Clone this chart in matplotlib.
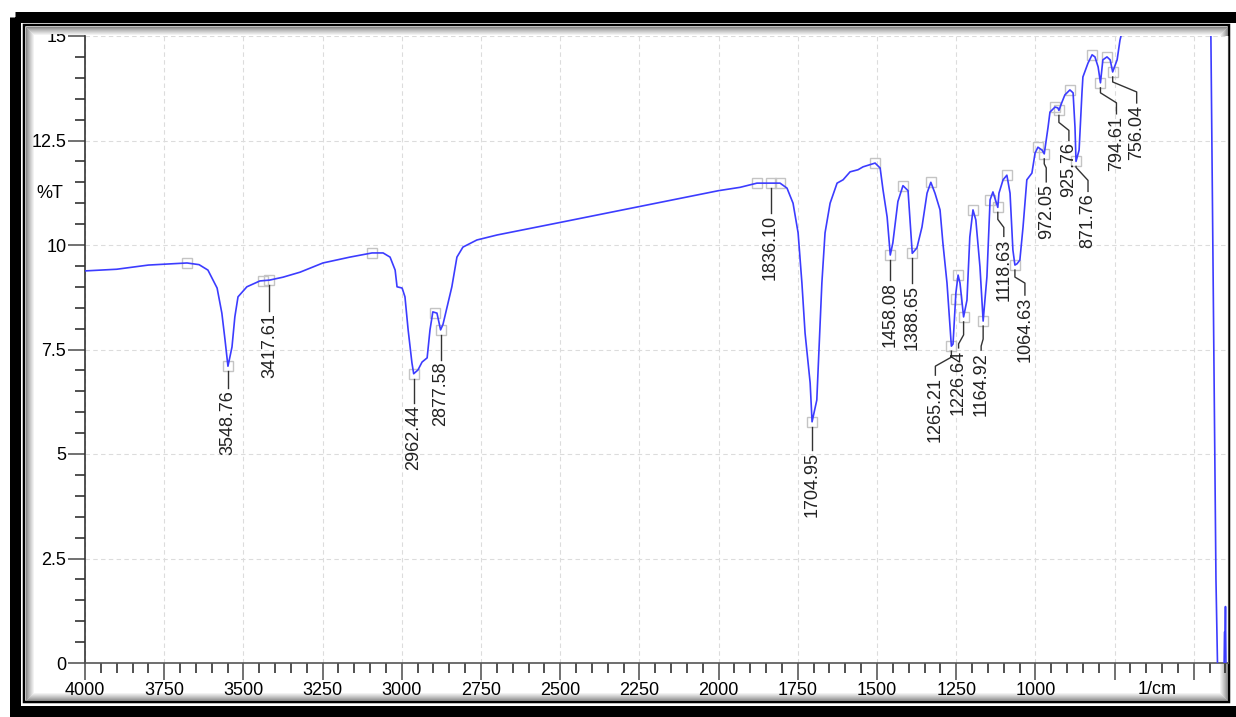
import numpy as np
import matplotlib
matplotlib.use("Agg")
import matplotlib.pyplot as plt
from matplotlib.patches import Rectangle
from matplotlib.ticker import MultipleLocator, FixedLocator, FixedFormatter

plt.rcParams['font.family'] = ['Liberation Sans', 'DejaVu Sans']

# FTIR spectrum (wavenumber in 1/cm, %T)
wavenumber = [4000, 3900, 3800, 3678, 3640, 3612, 3583, 3568, 3558, 3548.76,
              3536, 3527, 3517, 3489, 3448, 3417.61, 3375, 3321, 3249, 3164,
              3094, 3059, 3037, 3021, 3015, 2999, 2990, 2980, 2968, 2962.44,
              2949, 2936, 2920, 2911, 2902, 2889, 2877.58, 2870, 2857, 2842,
              2826, 2807, 2763, 2699, 2500, 2250, 2000, 1932, 1879, 1836.10,
              1806, 1784, 1765, 1749, 1737, 1727, 1711, 1704.95, 1690, 1683,
              1674, 1664, 1648, 1626, 1607, 1585, 1560, 1544, 1506, 1490,
              1481, 1468, 1458.08, 1450, 1434, 1418, 1402, 1388.65, 1374, 1358,
              1342, 1330, 1317, 1301, 1292, 1279, 1265.21, 1260, 1251, 1244,
              1238, 1226.64, 1216, 1207, 1197, 1188, 1175, 1164.92, 1153, 1143,
              1134, 1118.63, 1115, 1102, 1090, 1080, 1071, 1064.63, 1058, 1049,
              1039, 1027, 1011, 1001, 992, 979, 972.05, 960, 954, 938,
              929, 925.76, 916, 907, 891, 881, 875, 871.76, 862, 853,
              850, 834, 821, 812, 802, 794.61, 787, 774, 764, 756.04,
              742, 733, 720, 700, 600, 500, 460, 446, 430, 424,
              405, 403, 401, 400, 398, 392]
transmittance = [9.38, 9.42, 9.52, 9.57, 9.53, 9.40, 8.97, 8.37, 7.73, 7.10,
                 7.56, 8.28, 8.76, 9.00, 9.14, 9.16, 9.23, 9.35, 9.57, 9.71,
                 9.81, 9.81, 9.71, 9.40, 9.00, 8.97, 8.76, 7.97, 7.18, 6.92,
                 7.01, 7.20, 7.30, 7.97, 8.40, 8.37, 7.97, 8.10, 8.52, 9.00,
                 9.71, 9.95, 10.12, 10.24, 10.54, 10.92, 11.30, 11.38, 11.48, 11.48,
                 11.48, 11.36, 11.00, 10.29, 9.09, 7.89, 6.70, 5.77, 6.29, 7.49,
                 9.09, 10.29, 11.00, 11.48, 11.56, 11.75, 11.80, 11.87, 11.96, 11.84,
                 11.32, 10.67, 9.76, 10.05, 11.04, 11.42, 11.30, 9.80, 9.93, 10.43,
                 11.24, 11.50, 11.24, 10.84, 10.05, 9.09, 7.58, 7.63, 8.85, 9.28,
                 9.09, 8.28, 8.68, 10.19, 10.84, 10.60, 9.48, 8.18, 9.24, 11.08,
                 11.27, 10.90, 11.24, 11.56, 11.67, 11.24, 9.88, 9.52, 9.55, 9.64,
                 10.43, 11.56, 11.72, 12.20, 12.34, 12.27, 12.18, 12.82, 13.18, 13.30,
                 13.28, 13.22, 13.42, 13.59, 13.71, 13.64, 12.82, 12.00, 12.27, 13.64,
                 14.02, 14.35, 14.55, 14.50, 14.26, 13.88, 14.43, 14.50, 14.43, 14.14,
                 14.43, 14.90, 15.30, 17.0, 18.5, 18.0, 17.0, 15.0, 2.0, -0.5,
                 -0.5, 0.74, 0.74, 1.35, -0.5, -0.5]

# labelled peaks
peaks = [3548.76, 3417.61, 2962.44, 2877.58, 1836.10, 1704.95, 1458.08, 1388.65,
         1265.21, 1226.64, 1164.92, 1118.63, 1064.63, 972.05, 925.76, 871.76,
         794.61, 756.04]
# other points the software marked
extra_marks = [3678, 3438, 3094, 2895, 1879, 1806, 1506, 1418, 1330, 1252, 1244,
               1197, 1143, 1090, 992, 938, 891, 821, 774]

# label layout in pixels: (dx, knee1, knee2, text top) below the peak
label_layout = [(0, 0, 0, 24), (0, 0, 0, 33), (0, 0, 0, 31), (0, 0, 0, 32),
                (0, 0, 0, 32), (0, 0, 0, 30), (0, 0, 0, 27), (0, 0, 0, 32),
                (-16, 11, 20, 31), (-5, 18, 27, 33), (-2, 18, 25, 31),
                (6, 12, 20, 31), (10, 12, 18, 32), (2, 10, 14, 30),
                (10, 12, 20, 32), (12, 6, 19, 32), (16, 10, 20, 33),
                (24, 10, 20, 33)]

W, H = 1236, 717
L, R, B, T = 85, 1228, 663, 36
XMAX, XMIN = 4000, 392
kx = (XMAX - XMIN) / (R - L)
ky = 15 / (B - T)
FS = 13

fig = plt.figure(figsize=(W / 100, H / 100), dpi=100)


def draw_frame(a, cover=0):
    a.set_xlim(0, W)
    a.set_ylim(H, 0)
    a.axis('off')
    if cover:
        a.add_patch(Rectangle((0, 0), W, cover, fc='white', ec='none'))
    a.add_patch(Rectangle((14.5, 16.5), W + 20, 710.5 - 16.5, fill=False,
                          ec='black', lw=11 * 0.72))
    a.add_patch(Rectangle((23.5, 24.5), 1228.5 - 23.5, 701.5 - 24.5, fill=False,
                          ec='black', lw=2.5 * 0.72))
    for i in range(1, 10):
        g = 0.45 + 0.55 * (i / 9) ** 0.8
        a.add_patch(Rectangle((24.5 + i, 25.5 + i), 1228.5 - 23.5 - 2 * i - 2,
                              701.5 - 24.5 - 2 * i - 2, fill=False,
                              ec=(g, g, g), lw=0.72))


bg = fig.add_axes([0, 0, 1, 1], zorder=-1)
draw_frame(bg)

ax = fig.add_axes([L / W, 1 - B / H, (R - L) / W, (B - T) / H])
ax.set_facecolor('white')

wn = np.array(wavenumber)
tr = np.array(transmittance)
ax.plot(wn, tr, color='#3c3cff', lw=1.2, zorder=3)

order = np.argsort(wn)
mark_wn = np.array(peaks + extra_marks)
mark_tr = np.interp(mark_wn, wn[order], tr[order])
ax.plot(mark_wn, mark_tr, ls='none', marker='s', ms=6.5, mfc='none',
        mec='#c4c4c4', mew=1.0, zorder=2)

peak_tr = np.interp(peaks, wn[order], tr[order])
for p, t, (dx, k1, k2, dt) in zip(peaks, peak_tr, label_layout):
    xl = p - dx * kx
    if k1 == 0:
        xs = [p, p]
        ys = [t - 5 * ky, t - (dt - 2) * ky]
    else:
        xs = [p, p, xl, xl]
        ys = [t - 5 * ky, t - k1 * ky, t - k2 * ky, t - (dt - 2) * ky]
    ax.plot(xs, ys, color='#333333', lw=1.0, zorder=4)
    ax.text(xl, t - dt * ky, '%.2f' % p, rotation=90, ha='center', va='top',
            fontsize=FS, color='#222222', zorder=5)

ax.set_xlim(XMAX, XMIN)
ax.set_ylim(0, 15)

xmaj = list(range(4000, 499, -250))
ax.xaxis.set_major_locator(FixedLocator(xmaj))
ax.xaxis.set_major_formatter(FixedFormatter([str(v) if v >= 1000 else '' for v in xmaj]))
ax.xaxis.set_minor_locator(MultipleLocator(50))
ax.yaxis.set_major_locator(FixedLocator([0, 2.5, 5, 7.5, 10, 12.5, 15]))
ax.yaxis.set_major_formatter(FixedFormatter(['0', '2.5', '5', '7.5', '10', '12.5', '15']))
ax.yaxis.set_minor_locator(MultipleLocator(0.5))

ax.tick_params(which='major', direction='out', length=12, width=1.3,
               color='#666666', labelsize=FS, pad=1.5)
ax.tick_params(which='minor', direction='out', length=7, width=1.1, color='#222222')
ax.grid(True, which='major', ls=(0, (4, 3)), color='#dcdcdc', lw=0.8)

ax.spines['top'].set_visible(False)
ax.spines['left'].set_color('#333333')
ax.spines['bottom'].set_color('#555555')
ax.spines['right'].set_color('#444444')
ax.spines['left'].set_linewidth(1.2)
ax.spines['bottom'].set_linewidth(1.2)

fig.text(50 / W, 1 - 193 / H, '%T', ha='center', va='center', fontsize=FS)
ax.text(615, -(690 - B) / (B - T), '1/cm', ha='center', va='center',
        fontsize=FS, transform=ax.get_xaxis_transform())

# top band of the frame lies over the clipped "15" label
CUT = 34
top = fig.add_axes([0, 1 - CUT / H, 1, CUT / H], zorder=10)
draw_frame(top, cover=CUT)
top.set_ylim(CUT, 0)

fig.savefig('out.png', dpi=100)
